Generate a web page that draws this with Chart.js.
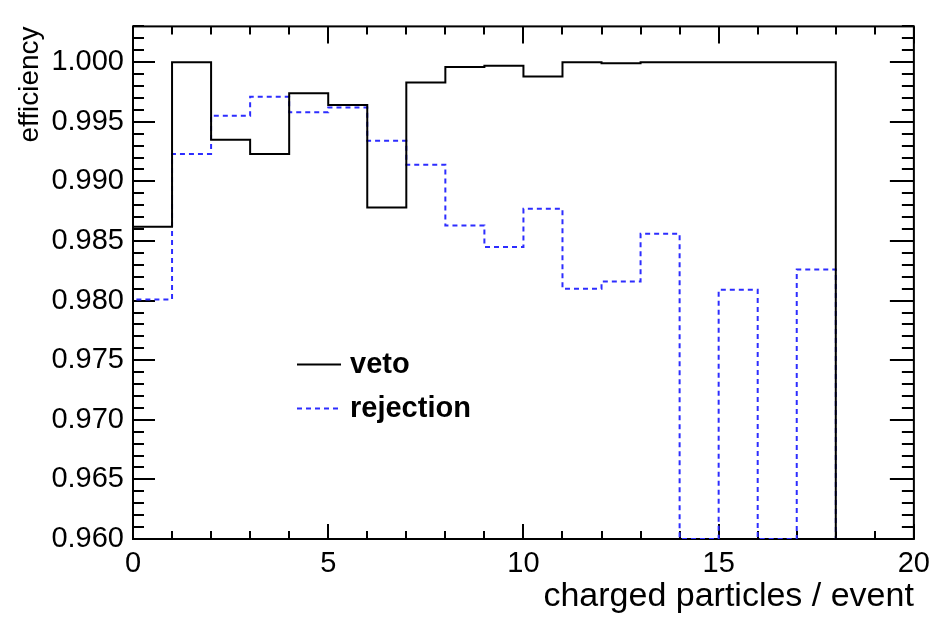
<!DOCTYPE html>
<html>
<head>
<meta charset="utf-8">
<script src="https://cdn.jsdelivr.net/npm/chart.js@4/dist/chart.umd.min.js"></script>
<style>
html, body { margin: 0; padding: 0; background: #ffffff; }
#wrap { width: 938px; height: 617px; position: relative; }
</style>
</head>
<body>
<div id="wrap"><canvas id="c"></canvas></div>
<script>
// ---- data (20 unit bins, 0..20) ----
const binEdges = [0,1,2,3,4,5,6,7,8,9,10,11,12,13,14,15,16,17,18,19,20];
const vetoValues = [0.9862, 1.0000, 0.9935, 0.9923, 0.9974, 0.9964, 0.9878, 0.9983, 0.9996, 0.9997,
                    0.9988, 1.0000, 0.9999, 1.0000, 1.0000, 1.0000, 1.0000, 1.0000, 0.9600, 0.9600];
const rejectionValues = [0.9801, 0.9923, 0.9955, 0.9971, 0.9958, 0.9962, 0.9934, 0.9914, 0.9863, 0.9845,
                         0.9877, 0.9810, 0.9816, 0.9856, 0.9600, 0.9809, 0.9600, 0.9826, 0.9600, 0.9600];
const yTickLabels = ['0.960','0.965','0.970','0.975','0.980','0.985','0.990','0.995','1.000'];
const xTickLabels = ['0','5','10','15','20'];
const seriesNames = ['veto', 'rejection'];
const xTitle = 'charged particles / event';
const yTitle = 'efficiency';

const Y_MIN = 0.960, Y_MAX = 1.003;
const X_MIN = 0, X_MAX = 20;
const Y_MINOR = 0.001, X_MINOR = 1;

// histogram outline: value i is held over bin [edge_i, edge_i+1]
// (points at left bin edges + closing point at the last right edge, drawn with stepped 'before')
function toSteps(values) {
  const pts = [{x: binEdges[0], y: Y_MIN}];
  values.forEach((v, i) => pts.push({x: binEdges[i], y: v}));
  pts.push({x: binEdges[binEdges.length - 1], y: values[values.length - 1]});
  return pts;
}

const FONT = "'Liberation Sans', Arial, Helvetica, sans-serif";
const BLUE = 'rgb(45,45,255)';

const framePlugin = {
  id: 'rootFrame',
  beforeDatasetsDraw(chart) {
    const {ctx, chartArea: a, scales: {x, y}} = chart;
    ctx.save();
    ctx.strokeStyle = '#000';
    ctx.lineWidth = 2;
    ctx.beginPath();
    const nMinY = Math.round((Y_MAX - Y_MIN) / Y_MINOR);
    for (let k = 0; k <= nMinY; k++) {
      const v = Y_MIN + k * Y_MINOR;
      if (v > Y_MAX + 1e-9) break;
      const p = Math.round(y.getPixelForValue(v));
      const major = (k % 5 === 0);
      const lL = major ? 22 : 11, lR = major ? 24 : 12;
      ctx.moveTo(a.left, p); ctx.lineTo(a.left + lL, p);
      ctx.moveTo(a.right, p); ctx.lineTo(a.right - lR, p);
    }
    const nMinX = Math.round((X_MAX - X_MIN) / X_MINOR);
    for (let k = 0; k <= nMinX; k++) {
      const v = X_MIN + k * X_MINOR;
      const p = Math.round(x.getPixelForValue(v));
      const major = (k % 5 === 0);
      const lB = major ? 15 : 8, lT = major ? 17 : 8;
      ctx.moveTo(p, a.bottom); ctx.lineTo(p, a.bottom - lB);
      ctx.moveTo(p, a.top); ctx.lineTo(p, a.top + lT);
    }
    ctx.stroke();
    ctx.strokeRect(a.left, a.top, a.right - a.left, a.bottom - a.top);
    ctx.restore();
  }
};

const legendPlugin = {
  id: 'rootLegend',
  afterDraw(chart) {
    const {ctx, chartArea: a} = chart;
    const ds = chart.data.datasets;
    const rows = [a.top + 338, a.top + 382];
    ctx.save();
    ds.forEach((d, i) => {
      const yy = rows[i];
      ctx.strokeStyle = d.borderColor;
      ctx.lineWidth = 2;
      ctx.setLineDash(d.borderDash || []);
      ctx.beginPath();
      ctx.moveTo(a.left + 164, yy);
      ctx.lineTo(a.left + 208, yy);
      ctx.stroke();
      ctx.setLineDash([]);
      ctx.fillStyle = '#000';
      ctx.font = "bold 29px " + FONT;
      ctx.textAlign = 'left';
      ctx.textBaseline = 'middle';
      ctx.fillText(d.label, a.left + 217, yy + 1);
    });
    ctx.restore();
  }
};

new Chart(document.getElementById('c'), {
  type: 'line',
  data: {
    datasets: [
      {
        label: seriesNames[0],
        data: toSteps(vetoValues),
        stepped: 'before',
        borderColor: '#000000',
        borderWidth: 2,
        pointRadius: 0,
        fill: false
      },
      {
        label: seriesNames[1],
        data: toSteps(rejectionValues),
        stepped: 'before',
        borderColor: BLUE,
        borderWidth: 2,
        borderDash: [5, 4],
        pointRadius: 0,
        fill: false
      }
    ]
  },
  options: {
    responsive: true,
    maintainAspectRatio: false,
    animation: false,
    layout: { padding: { left: 0, right: 19, top: 17, bottom: 0 } },
    plugins: {
      legend: { display: false },
      tooltip: { enabled: false }
    },
    scales: {
      x: {
        type: 'linear',
        min: X_MIN, max: X_MAX,
        grid: { display: false, drawTicks: false },
        border: { display: false },
        afterBuildTicks: (s) => { s.ticks = xTickLabels.map(l => ({ value: parseFloat(l) })); },
        afterFit: (s) => { s.height = 78; },
        ticks: {
          color: '#000',
          font: { family: FONT, size: 29 },
          padding: 8,
          maxRotation: 0,
          callback: (v, i) => xTickLabels[i]
        },
        title: {
          display: true, text: xTitle, align: 'end', color: '#000',
          font: { family: FONT, size: 34 },
          padding: { top: 0, bottom: 0 }
        }
      },
      y: {
        type: 'linear',
        min: Y_MIN, max: Y_MAX,
        grid: { display: false, drawTicks: false },
        border: { display: false },
        afterBuildTicks: (s) => { s.ticks = yTickLabels.map(l => ({ value: parseFloat(l) })); },
        afterFit: (s) => { s.width = 133; },
        ticks: {
          color: '#000',
          font: { family: FONT, size: 29 },
          padding: 9,
          callback: (v, i) => yTickLabels[i]
        },
        title: {
          display: true, text: yTitle, align: 'end', color: '#000',
          font: { family: FONT, size: 28 },
          padding: { top: 13, bottom: 0 }
        }
      }
    }
  },
  plugins: [framePlugin, legendPlugin]
});
</script>
</body>
</html>
